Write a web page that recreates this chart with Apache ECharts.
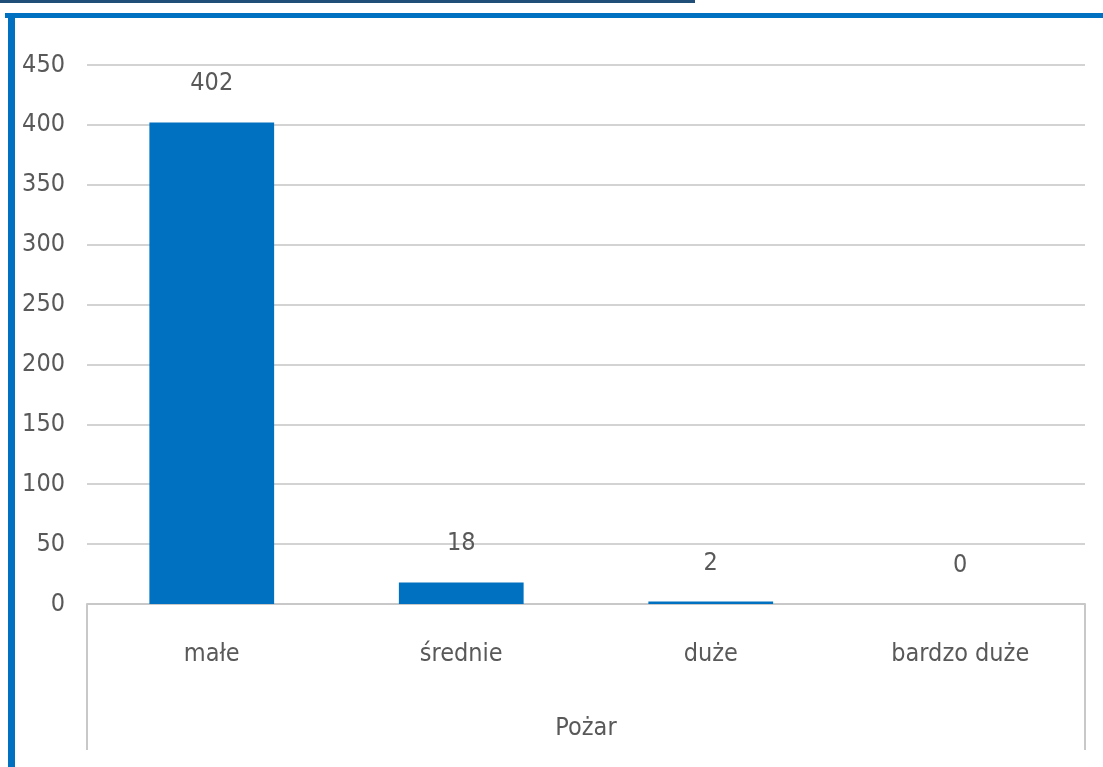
<!DOCTYPE html>
<html><head><meta charset="utf-8">
<script src="https://cdn.jsdelivr.net/npm/echarts@6/dist/echarts.min.js"></script>
<style>html,body{margin:0;padding:0;background:#fff;}#c{width:1103px;height:767px;}</style>
</head><body><div id="c"></div>
<script>
const categories = ['małe', 'średnie', 'duże', 'bardzo duże'];
const values = [402, 18, 2, 0];
const axisTitle = 'Pożar';
const yTicks = { min: 0, max: 450, interval: 50 };

const FONT = '"Liberation Sans Narrow", "DejaVu Sans Condensed", "Liberation Sans", sans-serif';
const chart = echarts.init(document.getElementById('c'));
const option = {
  animation: false,
  backgroundColor: '#fff',
  grid: { left: 87, right: 18, top: 65, bottom: 163 },
  xAxis: {
    type: 'category', data: categories,
    axisLine: { show: true, lineStyle: { color: '#c8c8c8', width: 2 } },
    axisTick: { show: false },
    axisLabel: { color: '#595959', fontFamily: FONT, fontSize: 25, margin: 38 },
    name: axisTitle, nameLocation: 'middle', nameGap: 112,
    nameTextStyle: { color: '#595959', fontFamily: FONT, fontSize: 25 }
  },
  yAxis: {
    type: 'value', min: yTicks.min, max: yTicks.max, interval: yTicks.interval,
    axisLine: { show: false }, axisTick: { show: false },
    axisLabel: { color: '#595959', fontFamily: FONT, fontSize: 25, margin: 22 },
    splitLine: { lineStyle: { color: '#d3d3d3', width: 2 } }
  },
  series: [{
    type: 'bar', data: values, barWidth: '50%',
    itemStyle: { color: '#0070C0' },
    label: { show: true, position: 'top', distance: 26, color: '#595959', fontFamily: FONT, fontSize: 25 }
  }]
};
chart.setOption(option);

function addGraphics() {
  const p0 = chart.convertToPixel({ gridIndex: 0 }, [0, 0]);
  const p1 = chart.convertToPixel({ gridIndex: 0 }, [1, 0]);
  const pn = chart.convertToPixel({ gridIndex: 0 }, [categories.length - 1, 0]);
  const half = (p1[0] - p0[0]) / 2;
  const xl = p0[0] - half, xr = pn[0] + half;
  const y0 = p0[1];
  const yBottom = y0 + 146;
  chart.setOption({
    graphic: [
      { type: 'rect', shape: { x: 0, y: 0, width: 695, height: 3 }, style: { fill: '#1F4E79' } },
      { type: 'rect', shape: { x: 5, y: 13, width: 1098, height: 5 }, style: { fill: '#0070C0' } },
      { type: 'rect', shape: { x: 8, y: 13, width: 7, height: 754 }, style: { fill: '#0070C0' } },
      { type: 'line', shape: { x1: xl, y1: y0, x2: xl, y2: yBottom }, style: { stroke: '#c8c8c8', lineWidth: 2 } },
      { type: 'line', shape: { x1: xr, y1: y0, x2: xr, y2: yBottom }, style: { stroke: '#c8c8c8', lineWidth: 2 } }
    ]
  });
}
addGraphics();
</script></body></html>
